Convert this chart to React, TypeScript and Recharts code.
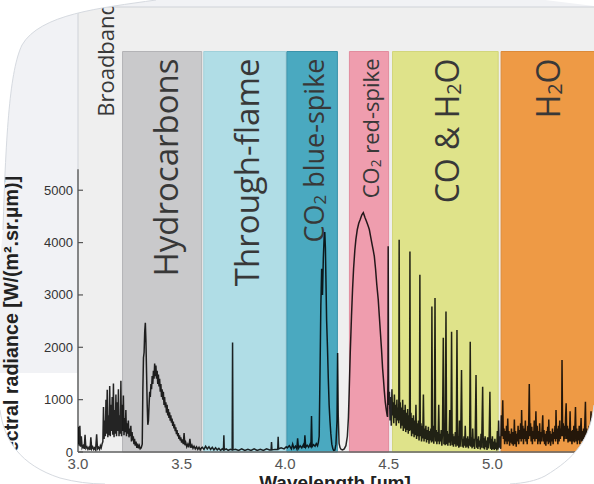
import React from 'react';
import { LineChart, Line, XAxis, YAxis, ReferenceArea, ReferenceLine } from 'recharts';

// ---------- data ----------
const xTicks = [3.0, 3.5, 4.0, 4.5, 5.0];
const yTicks = [0, 1000, 2000, 3000, 4000, 5000];
const xDomain: [number, number] = [3.0, 5.5];
const yDomain: [number, number] = [0, 8500];
const bandTop = 7650;
const yAxisDarkTop = 5400;

const bandLabels = ['Hydrocarbons', 'Through-flame', 'CO2 blue-spike', 'CO2 red-spike', 'CO & H2O', 'H2O'];
const bandStarts = [3.215, 3.607, 4.008, 4.31, 4.518, 5.042];
const bandEnds = [3.597, 4.003, 4.252, 4.499, 5.028, 5.5];
const broadbandLabel = 'Broadband';
const broadbandRange = [3.0, 3.215];

const xTitle = 'Wavelength [µm]';
const yTitle = 'Spectral radiance [W/(m².sr.µm)]';

const broadbandSpectrum: [number, number][] = [
  [3.000,150],[3.003,480],[3.006,120],[3.009,500],[3.012,100],[3.016,300],[3.020,80],[3.025,120],[3.030,60],[3.034,330],
  [3.038,70],[3.043,100],[3.048,50],[3.053,90],[3.058,40],[3.062,280],[3.066,60],[3.071,100],[3.076,50],[3.080,80],
  [3.085,40],[3.090,340],[3.094,60],[3.099,90],[3.104,50],[3.108,120],[3.112,80],[3.116,150],[3.120,200],[3.123,860],
  [3.126,250],[3.129,600],[3.132,300],[3.135,1000],[3.138,350],[3.141,1190],[3.144,280],[3.147,700],[3.150,320],[3.153,1260],
  [3.156,300],[3.159,900],[3.162,400],[3.165,1050],[3.168,330],[3.171,1310],[3.174,280],[3.177,800],[3.180,350],[3.183,1100],
  [3.186,300],[3.189,950],[3.192,400],[3.195,1200],[3.198,300],[3.201,700],[3.204,350],[3.207,1360],[3.210,300],[3.213,900],
];

const hydrocarbonSpectrum: [number, number][] = [
  [3.216,400],[3.219,1080],[3.222,320],[3.225,650],[3.228,380],[3.231,800],[3.234,300],[3.237,550],[3.240,350],[3.243,600],
  [3.246,280],[3.249,450],[3.252,300],[3.255,500],[3.258,200],[3.261,380],[3.264,220],[3.267,300],[3.270,150],[3.273,250],
  [3.276,120],[3.280,200],[3.284,80],[3.288,160],[3.292,70],[3.296,120],[3.300,60],[3.305,80],[3.310,150],[3.313,1200],
  [3.316,1800],[3.319,1900],[3.322,2300],[3.325,2470],[3.328,2100],[3.331,1500],[3.334,900],[3.337,520],[3.340,600],[3.343,900],
  [3.346,1150],[3.349,1050],[3.352,1300],[3.355,1200],[3.358,1450],[3.361,1300],[3.364,1550],[3.367,1400],[3.370,1690],[3.373,1450],
  [3.376,1650],[3.379,1400],[3.382,1550],[3.385,1300],[3.388,1480],[3.391,1250],[3.394,1400],[3.397,1150],[3.400,1300],[3.403,1050],
  [3.406,1200],[3.409,1000],[3.412,1150],[3.415,900],[3.418,1050],[3.421,850],[3.424,950],[3.427,750],[3.430,900],[3.433,700],
  [3.436,820],[3.439,650],[3.442,760],[3.445,600],[3.448,700],[3.451,560],[3.454,640],[3.457,500],[3.460,580],[3.463,450],
  [3.466,530],[3.469,400],[3.472,470],[3.475,340],[3.478,420],[3.481,300],[3.484,360],[3.487,250],[3.490,320],[3.493,220],
  [3.496,280],[3.500,180],[3.504,240],[3.508,150],[3.512,360],[3.516,130],[3.520,180],[3.525,100],[3.530,150],[3.535,90],
  [3.540,250],[3.545,80],[3.550,130],[3.555,70],[3.560,110],[3.566,60],[3.572,100],[3.578,50],[3.584,90],[3.590,40],
  [3.596,80],
];

const throughFlameSpectrum: [number, number][] = [
  [3.600,90],[3.608,50],[3.616,110],[3.624,60],[3.632,100],[3.640,50],[3.648,90],[3.656,40],[3.664,80],[3.672,40],
  [3.680,70],[3.688,30],[3.696,60],[3.702,40],[3.704,320],[3.706,40],[3.715,60],[3.725,30],[3.735,50],[3.744,40],
  [3.746,2090],[3.748,40],[3.760,50],[3.775,30],[3.790,60],[3.805,30],[3.820,50],[3.835,30],[3.850,60],[3.865,30],
  [3.880,50],[3.895,30],[3.910,60],[3.925,40],[3.932,40],[3.934,190],[3.936,40],[3.950,50],[3.964,50],[3.966,290],
  [3.968,60],[3.980,80],[3.995,60],[4.005,100],
];

const co2BlueSpectrum: [number, number][] = [
  [4.010,80],[4.020,120],[4.030,60],[4.036,150],[4.042,70],[4.050,110],[4.056,60],[4.060,262],[4.064,70],[4.072,120],
  [4.080,80],[4.088,140],[4.092,80],[4.095,320],[4.099,90],[4.106,130],[4.113,90],[4.120,150],[4.124,90],[4.127,685],
  [4.130,100],[4.137,140],[4.144,110],[4.150,160],[4.156,120],[4.160,180],[4.164,300],[4.168,1500],[4.172,2800],[4.176,3500],
  [4.180,3000],[4.184,3700],[4.188,4100],[4.191,4200],[4.194,3900],[4.197,3200],[4.200,2500],[4.204,2000],[4.208,1400],[4.212,900],
  [4.216,600],[4.220,360],[4.225,150],[4.230,60],[4.234,30],[4.240,40],[4.245,150],[4.250,600],[4.253,1890],[4.256,700],
  [4.260,165],[4.265,80],[4.270,50],[4.277,40],[4.285,60],[4.293,120],
];

const co2RedSpectrum: [number, number][] = [
  [4.300,300],[4.305,650],[4.309,1180],[4.314,1900],[4.320,2600],[4.325,3100],[4.330,3500],[4.336,3850],[4.341,4056],[4.348,4250],
  [4.355,4370],[4.362,4440],[4.370,4530],[4.377,4570],[4.385,4480],[4.393,4400],[4.400,4320],[4.406,4250],[4.413,4100],[4.420,3950],
  [4.425,3850],[4.430,3740],[4.436,3500],[4.442,3200],[4.449,2910],[4.455,2550],[4.460,2250],[4.465,1950],[4.470,1600],[4.474,1400],
  [4.478,1180],[4.483,950],[4.488,800],[4.492,700],[4.494,670],[4.496,1500],[4.497,3930],[4.499,1200],
];

const coH2oSpectrum: [number, number][] = [
  [4.500,900],[4.503,1150],[4.506,600],[4.509,1050],[4.512,500],[4.515,1200],[4.518,700],[4.521,950],[4.524,550],[4.527,1100],
  [4.530,650],[4.533,900],[4.536,500],[4.539,1000],[4.542,600],[4.545,850],[4.548,550],[4.550,4056],[4.552,600],[4.555,950],
  [4.558,450],[4.561,850],[4.564,500],[4.567,1000],[4.570,400],[4.573,800],[4.576,450],[4.579,900],[4.582,380],[4.585,750],
  [4.588,420],[4.591,820],[4.594,350],[4.597,700],[4.600,400],[4.602,3830],[4.604,420],[4.607,750],[4.610,300],[4.613,650],
  [4.616,350],[4.619,700],[4.622,280],[4.625,600],[4.628,320],[4.631,900],[4.634,250],[4.637,550],[4.640,300],[4.643,600],
  [4.646,220],[4.648,500],[4.650,3385],[4.652,300],[4.655,550],[4.658,200],[4.661,500],[4.664,260],[4.667,1100],[4.670,200],
  [4.673,450],[4.676,250],[4.679,500],[4.682,180],[4.685,420],[4.688,230],[4.691,480],[4.694,160],[4.697,400],[4.700,220],
  [4.703,450],[4.706,180],[4.708,2780],[4.711,200],[4.714,500],[4.717,160],[4.720,400],[4.723,2940],[4.726,200],[4.729,420],
  [4.732,150],[4.735,380],[4.738,200],[4.741,900],[4.744,150],[4.747,350],[4.750,200],[4.753,420],[4.756,120],[4.759,350],
  [4.763,2180],[4.766,150],[4.769,380],[4.772,130],[4.776,2683],[4.779,150],[4.782,400],[4.785,120],[4.788,350],[4.791,180],
  [4.794,800],[4.797,120],[4.800,300],[4.803,2299],[4.806,130],[4.809,350],[4.812,100],[4.815,300],[4.818,150],[4.821,380],
  [4.824,100],[4.826,300],[4.829,2332],[4.832,120],[4.835,300],[4.838,80],[4.841,600],[4.844,100],[4.847,280],[4.851,1565],
  [4.854,100],[4.857,250],[4.860,80],[4.863,300],[4.866,120],[4.869,500],[4.872,80],[4.875,260],[4.878,100],[4.881,300],
  [4.884,70],[4.887,250],[4.890,120],[4.893,2108],[4.896,100],[4.899,280],[4.902,70],[4.905,450],[4.908,100],[4.911,250],
  [4.914,60],[4.917,300],[4.921,1470],[4.924,80],[4.927,250],[4.930,60],[4.933,300],[4.936,100],[4.939,220],[4.942,50],
  [4.945,350],[4.948,80],[4.953,1246],[4.956,70],[4.959,260],[4.962,50],[4.965,300],[4.968,90],[4.971,220],[4.974,40],
  [4.977,280],[4.980,70],[4.984,200],[4.988,1150],[4.991,60],[4.994,250],[4.997,40],[5.000,300],[5.003,60],[5.006,200],
  [5.009,40],[5.012,250],[5.015,60],[5.018,180],[5.021,30],[5.024,400],[5.027,50],[5.030,600],[5.033,80],[5.036,300],
  [5.040,60],
];

const h2oSpectrum: [number, number][] = [
  [5.043,700],[5.046,300],[5.050,990],[5.053,250],[5.056,450],[5.059,150],[5.062,400],[5.065,200],[5.068,500],[5.071,150],
  [5.074,640],[5.077,200],[5.080,400],[5.083,120],[5.086,350],[5.089,180],[5.092,450],[5.095,150],[5.098,380],[5.101,120],
  [5.104,300],[5.106,620],[5.109,150],[5.112,400],[5.115,100],[5.118,350],[5.121,200],[5.124,500],[5.127,150],[5.130,420],
  [5.133,250],[5.136,550],[5.139,200],[5.141,800],[5.144,250],[5.147,500],[5.150,150],[5.153,450],[5.156,250],[5.159,600],
  [5.162,200],[5.165,400],[5.168,150],[5.171,500],[5.174,250],[5.178,1300],[5.181,300],[5.184,550],[5.187,200],[5.190,480],
  [5.193,150],[5.196,400],[5.199,250],[5.202,600],[5.205,200],[5.208,450],[5.210,780],[5.213,250],[5.216,500],[5.219,150],
  [5.222,400],[5.225,200],[5.228,550],[5.231,150],[5.234,380],[5.237,200],[5.240,450],[5.243,700],[5.246,200],[5.249,420],
  [5.252,150],[5.255,350],[5.258,120],[5.261,400],[5.264,200],[5.267,480],[5.270,150],[5.272,620],[5.275,180],[5.278,400],
  [5.281,120],[5.284,350],[5.287,200],[5.290,450],[5.293,150],[5.296,380],[5.299,250],[5.302,500],[5.305,200],[5.307,800],
  [5.310,250],[5.313,450],[5.316,150],[5.319,500],[5.322,200],[5.325,600],[5.328,250],[5.331,450],[5.334,300],[5.336,1757],
  [5.339,300],[5.342,550],[5.345,200],[5.348,500],[5.351,250],[5.353,650],[5.356,930],[5.359,250],[5.362,500],[5.365,180],
  [5.368,450],[5.371,200],[5.375,780],[5.378,200],[5.381,400],[5.384,150],[5.387,420],[5.390,200],[5.393,500],[5.396,180],
  [5.401,860],[5.404,200],[5.407,450],[5.410,150],[5.413,400],[5.416,220],[5.419,500],[5.422,150],[5.425,380],[5.428,650],
  [5.431,200],[5.434,400],[5.437,150],[5.440,450],[5.443,250],[5.446,550],[5.449,960],[5.452,200],[5.455,450],[5.458,150],
  [5.461,400],[5.464,250],[5.467,500],[5.470,200],[5.473,450],[5.476,780],[5.479,200],[5.482,400],[5.485,150],[5.488,450],
  [5.491,250],[5.494,500],[5.497,200],[5.500,350],
];

const spectrum = [
  ...broadbandSpectrum, ...hydrocarbonSpectrum, ...throughFlameSpectrum, ...co2BlueSpectrum,
  ...co2RedSpectrum, ...coH2oSpectrum, ...h2oSpectrum,
].map(([w, v]) => ({ w, v }));

// ---------- styles / layout ----------
const W = 600;
const H = 484;
const MARGIN = { top: 7, right: 4, bottom: 0, left: 8 };
const Y_AXIS_W = 70;
const X_AXIS_H = 32;
const AXIS_X = MARGIN.left + Y_AXIS_W;
const AXIS_Y = H - MARGIN.bottom - X_AXIS_H;

const LABEL_FONT = '"Open Sans", "DejaVu Sans", sans-serif';
const AXIS_FONT = '"Liberation Sans", Arial, sans-serif';

const bandStyles = [
  { fill: '#c9c9cb', stroke: '#b3b3b6', fontSize: 33, dx: 3 },
  { fill: '#b0dde6', stroke: '#a0d0da', fontSize: 33, dx: 1 },
  { fill: '#4aa9c0', stroke: '#3b93aa', fontSize: 27, dx: 1 },
  { fill: '#ef9dae', stroke: '#e28c9e', fontSize: 22, dx: 1 },
  { fill: '#dfe38a', stroke: '#d2d67c', fontSize: 32, dx: 1 },
  { fill: '#ee9a45', stroke: '#dc8a39', fontSize: 32, dx: -2 },
];

function richParts(text: string, fs: number) {
  const parts = text.split(/(?<=[A-Z])(2)/);
  const out: React.ReactNode[] = [];
  let shifted = false;
  parts.forEach((p, i) => {
    if (p === '') return;
    if (p === '2') {
      out.push(<tspan key={i} fontSize={fs * 0.62} dy={fs * 0.22}>2</tspan>);
      shifted = true;
    } else {
      out.push(<tspan key={i} dy={shifted ? -fs * 0.22 : 0}>{p}</tspan>);
      shifted = false;
    }
  });
  return out;
}

function BandLabel(props: any) {
  const { viewBox, text, fontSize, dx = 0, topPad = 7 } = props;
  if (!viewBox) return null;
  const cx = viewBox.x + viewBox.width / 2 + dx;
  const y = viewBox.y + topPad;
  return (
    <text
      transform={`translate(${cx},${y}) rotate(-90)`}
      textAnchor="end"
      dominantBaseline="central"
      fontFamily={LABEL_FONT}
      fontSize={fontSize}
      fill="#383838"
      style={{ whiteSpace: 'pre' }}
    >
      {richParts(text, fontSize)}
    </text>
  );
}

function YTick(props: any) {
  const { y, payload } = props;
  return (
    <g>
      <line x1={AXIS_X} x2={AXIS_X + 5} y1={y} y2={y} stroke="#555" strokeWidth={1.2} />
      <text x={AXIS_X - 5} y={y + 4.5} textAnchor="end" fontFamily={AXIS_FONT} fontSize={13} fill="#333">
        {payload.value}
      </text>
    </g>
  );
}

function XTick(props: any) {
  const { x, payload } = props;
  return (
    <text x={x} y={AXIS_Y + 17} textAnchor="middle" fontFamily={AXIS_FONT} fontSize={15} fill="#555">
      {Number(payload.value).toFixed(1)}
    </text>
  );
}

export default function App() {
  return (
    <div style={{ position: 'absolute', left: 0, top: 0, width: 594, height: 484, overflow: 'hidden', background: '#ffffff' }}>
      {/* pale decorative background */}
      <svg width={594} height={484} style={{ position: 'absolute', left: 0, top: 0 }}>
        <rect x={0} y={0} width={594} height={8} fill="#f1f2f5" />
        <rect x={0} y={0} width={AXIS_X} height={373} fill="#f1f2f5" />
        <polygon points="545,0 594,0 594,6" fill="#ffffff" />
      </svg>
      <div style={{ position: 'absolute', left: 0, top: 0 }}>
        <LineChart width={W} height={H} data={spectrum} margin={MARGIN}>
          <XAxis
            type="number"
            dataKey="w"
            domain={xDomain}
            ticks={xTicks}
            interval={0}
            height={X_AXIS_H}
            axisLine={{ stroke: '#666', strokeWidth: 1.5 }}
            tickLine={false}
            tick={<XTick />}
            allowDataOverflow
          />
          <YAxis
            type="number"
            domain={yDomain}
            ticks={yTicks}
            interval={0}
            width={Y_AXIS_W}
            axisLine={false}
            tickLine={false}
            tick={<YTick />}
            allowDataOverflow
          />
          <ReferenceArea x1={xDomain[0]} x2={xDomain[1]} y1={yDomain[0]} y2={yDomain[1]} fill="#efefef" fillOpacity={1} stroke="#cfd3d8" strokeWidth={1} />
          <ReferenceArea
            x1={broadbandRange[0]}
            x2={broadbandRange[1]}
            y1={yDomain[0]}
            y2={yDomain[1]}
            fill="none"
            fillOpacity={0}
            label={<BandLabel text={broadbandLabel} fontSize={22} dx={5} topPad={-5} />}
          />
          {bandLabels.map((name, i) => (
            <ReferenceArea
              key={name}
              x1={bandStarts[i]}
              x2={bandEnds[i]}
              y1={0}
              y2={bandTop}
              fill={bandStyles[i].fill}
              fillOpacity={1}
              stroke={bandStyles[i].stroke}
              strokeWidth={1}
              label={<BandLabel text={name} fontSize={bandStyles[i].fontSize} dx={bandStyles[i].dx} />}
            />
          ))}
          <ReferenceLine
            segment={[{ x: xDomain[0], y: 0 }, { x: xDomain[0], y: yAxisDarkTop }]}
            stroke="#666"
            strokeWidth={1.5}
          />
          <Line
            type="linear"
            dataKey="v"
            stroke="#000"
            strokeOpacity={0.85}
            strokeWidth={1.5}
            dot={false}
            isAnimationActive={false}
          />
        </LineChart>
      </div>
      {/* axis titles and white frame mask */}
      <svg width={594} height={484} style={{ position: 'absolute', left: 0, top: 0, pointerEvents: 'none' }}>
        <text transform="translate(18,176) rotate(-90)" textAnchor="end" fontFamily={AXIS_FONT} fontWeight="bold" fontSize={19.7} fill="#222">
          {yTitle}
        </text>
        <text x={335} y={489} textAnchor="middle" fontFamily={AXIS_FONT} fontWeight="bold" fontSize={19} fill="#222">
          {xTitle}
        </text>
        <path d="M0,0 L156,0 C100,8 40,14 22,45 C10,70 6,130 3,230 L0,260 Z" fill="#ffffff" />
        <path d="M156,0 C100,8 40,14 22,45 C10,70 6,130 3,230" fill="none" stroke="#d6dae0" strokeWidth={1} />
        <path d="M0,410 C4,440 20,465 60,478 C75,482 90,484 105,484 L0,484 Z" fill="#ffffff" />
        <path d="M0,410 C4,440 20,465 60,478 C75,482 90,484 105,484" fill="none" stroke="#d6dae0" strokeWidth={1} />
        <path d="M594,405 C590,440 575,458 545,476 C535,481 525,483 510,484 L594,484 Z" fill="#ffffff" />
        <path d="M594,405 C590,440 575,458 545,476 C535,481 525,483 510,484" fill="none" stroke="#d6dae0" strokeWidth={1} />
      </svg>
    </div>
  );
}
